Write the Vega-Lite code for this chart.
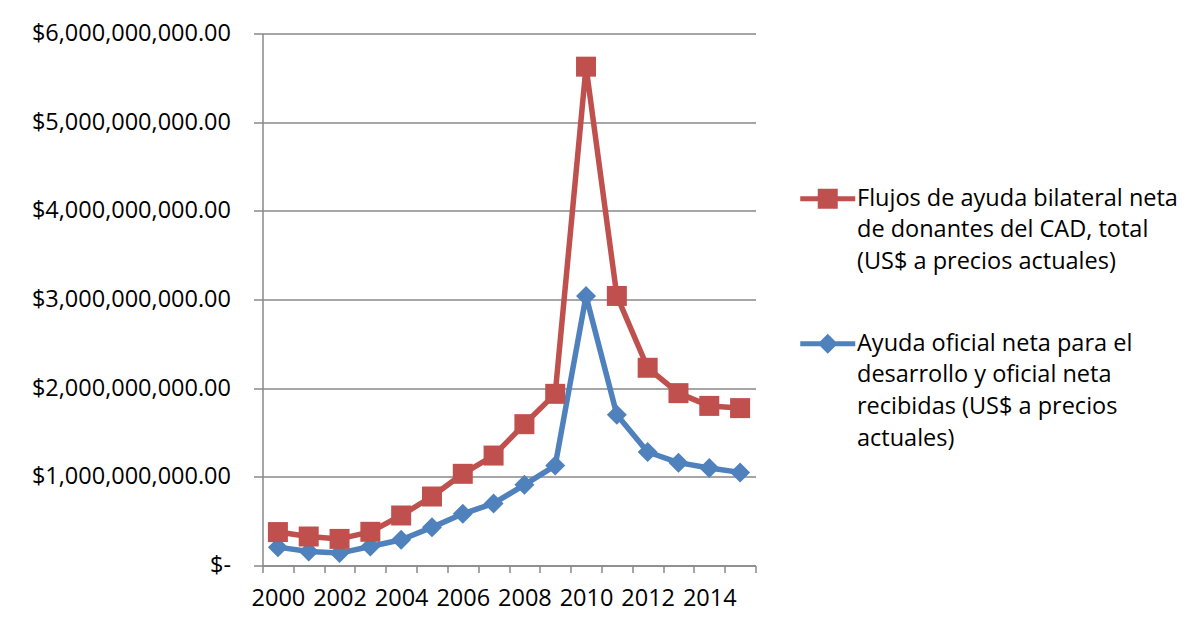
{
  "$schema": "https://vega.github.io/schema/vega-lite/v6.json",
  "width": 493,
  "height": 532,
  "autosize": {"type": "none"},
  "padding": {"left": 262.5, "top": 33.5, "right": 442.5, "bottom": 65.5},
  "background": "white",
  "config": {"view": {"stroke": null}, "font": "Open Sans"},
  "data": {
    "values": [
      {"year": 2000, "series": "Ayuda oficial neta para el desarrollo y oficial neta recibidas (US$ a precios actuales)", "value": 207000000},
      {"year": 2001, "series": "Ayuda oficial neta para el desarrollo y oficial neta recibidas (US$ a precios actuales)", "value": 158000000},
      {"year": 2002, "series": "Ayuda oficial neta para el desarrollo y oficial neta recibidas (US$ a precios actuales)", "value": 140000000},
      {"year": 2003, "series": "Ayuda oficial neta para el desarrollo y oficial neta recibidas (US$ a precios actuales)", "value": 214000000},
      {"year": 2004, "series": "Ayuda oficial neta para el desarrollo y oficial neta recibidas (US$ a precios actuales)", "value": 290000000},
      {"year": 2005, "series": "Ayuda oficial neta para el desarrollo y oficial neta recibidas (US$ a precios actuales)", "value": 430000000},
      {"year": 2006, "series": "Ayuda oficial neta para el desarrollo y oficial neta recibidas (US$ a precios actuales)", "value": 583000000},
      {"year": 2007, "series": "Ayuda oficial neta para el desarrollo y oficial neta recibidas (US$ a precios actuales)", "value": 700000000},
      {"year": 2008, "series": "Ayuda oficial neta para el desarrollo y oficial neta recibidas (US$ a precios actuales)", "value": 910000000},
      {"year": 2009, "series": "Ayuda oficial neta para el desarrollo y oficial neta recibidas (US$ a precios actuales)", "value": 1127000000},
      {"year": 2010, "series": "Ayuda oficial neta para el desarrollo y oficial neta recibidas (US$ a precios actuales)", "value": 3040000000},
      {"year": 2011, "series": "Ayuda oficial neta para el desarrollo y oficial neta recibidas (US$ a precios actuales)", "value": 1700000000},
      {"year": 2012, "series": "Ayuda oficial neta para el desarrollo y oficial neta recibidas (US$ a precios actuales)", "value": 1280000000},
      {"year": 2013, "series": "Ayuda oficial neta para el desarrollo y oficial neta recibidas (US$ a precios actuales)", "value": 1160000000},
      {"year": 2014, "series": "Ayuda oficial neta para el desarrollo y oficial neta recibidas (US$ a precios actuales)", "value": 1100000000},
      {"year": 2015, "series": "Ayuda oficial neta para el desarrollo y oficial neta recibidas (US$ a precios actuales)", "value": 1050000000},
      {"year": 2000, "series": "Flujos de ayuda bilateral neta de donantes del CAD, total (US$ a precios actuales)", "value": 377000000},
      {"year": 2001, "series": "Flujos de ayuda bilateral neta de donantes del CAD, total (US$ a precios actuales)", "value": 327000000},
      {"year": 2002, "series": "Flujos de ayuda bilateral neta de donantes del CAD, total (US$ a precios actuales)", "value": 300000000},
      {"year": 2003, "series": "Flujos de ayuda bilateral neta de donantes del CAD, total (US$ a precios actuales)", "value": 380000000},
      {"year": 2004, "series": "Flujos de ayuda bilateral neta de donantes del CAD, total (US$ a precios actuales)", "value": 564000000},
      {"year": 2005, "series": "Flujos de ayuda bilateral neta de donantes del CAD, total (US$ a precios actuales)", "value": 778000000},
      {"year": 2006, "series": "Flujos de ayuda bilateral neta de donantes del CAD, total (US$ a precios actuales)", "value": 1034000000},
      {"year": 2007, "series": "Flujos de ayuda bilateral neta de donantes del CAD, total (US$ a precios actuales)", "value": 1240000000},
      {"year": 2008, "series": "Flujos de ayuda bilateral neta de donantes del CAD, total (US$ a precios actuales)", "value": 1594000000},
      {"year": 2009, "series": "Flujos de ayuda bilateral neta de donantes del CAD, total (US$ a precios actuales)", "value": 1936000000},
      {"year": 2010, "series": "Flujos de ayuda bilateral neta de donantes del CAD, total (US$ a precios actuales)", "value": 5626000000},
      {"year": 2011, "series": "Flujos de ayuda bilateral neta de donantes del CAD, total (US$ a precios actuales)", "value": 3040000000},
      {"year": 2012, "series": "Flujos de ayuda bilateral neta de donantes del CAD, total (US$ a precios actuales)", "value": 2230000000},
      {"year": 2013, "series": "Flujos de ayuda bilateral neta de donantes del CAD, total (US$ a precios actuales)", "value": 1944000000},
      {"year": 2014, "series": "Flujos de ayuda bilateral neta de donantes del CAD, total (US$ a precios actuales)", "value": 1800000000},
      {"year": 2015, "series": "Flujos de ayuda bilateral neta de donantes del CAD, total (US$ a precios actuales)", "value": 1775000000}
    ]
  },
  "encoding": {
    "x": {
      "field": "year",
      "type": "quantitative",
      "scale": {"domain": [1999.5, 2015.5], "nice": false, "zero": false},
      "axis": {
        "title": null,
        "grid": false,
        "values": [1999.5, 2000.5, 2001.5, 2002.5, 2003.5, 2004.5, 2005.5, 2006.5, 2007.5, 2008.5, 2009.5, 2010.5, 2011.5, 2012.5, 2013.5, 2014.5, 2015.5],
        "labelExpr": "((datum.value + 0.5) % 2 === 0 && datum.value < 2015) ? format(datum.value + 0.5, 'd') : ''",
        "labelOffset": 15.4,
        "labelOverlap": false,
        "labelFlush": false,
        "labelBound": false,
        "labelFont": "Open Sans",
        "labelFontSize": 23.5,
        "labelColor": "#000000",
        "labelPadding": 14,
        "tickSize": 7,
        "tickColor": "#898989",
        "domainColor": "#898989",
        "tickWidth": 1.5,
        "domainWidth": 1.5
      }
    },
    "y": {
      "field": "value",
      "type": "quantitative",
      "scale": {"domain": [0, 6000000000], "nice": false},
      "axis": {
        "title": null,
        "values": [0, 1000000000, 2000000000, 3000000000, 4000000000, 5000000000, 6000000000],
        "labelExpr": "datum.value === 0 ? '$-\u00a0\u00a0' : format(datum.value, '$,.2f')",
        "labelFont": "Open Sans",
        "labelFontSize": 23.5,
        "labelColor": "#000000",
        "labelLimit": 400,
        "labelPadding": 23,
        "tickSize": 9,
        "tickColor": "#898989",
        "domainColor": "#898989",
        "gridColor": "#898989",
        "gridWidth": 1.5,
        "tickWidth": 1.5,
        "domainWidth": 1.5
      }
    }
  },
  "layer": [
    {
      "mark": {"type": "line", "strokeWidth": 5.5, "strokeJoin": "round", "strokeCap": "round"},
      "encoding": {
        "stroke": {
          "field": "series",
          "type": "nominal",
          "scale": {
            "domain": ["Flujos de ayuda bilateral neta de donantes del CAD, total (US$ a precios actuales)", "Ayuda oficial neta para el desarrollo y oficial neta recibidas (US$ a precios actuales)"],
            "range": ["#C0504D", "#4F81BD"]
          },
          "legend": {
            "orient": "none",
            "legendX": 553.5,
            "legendY": 153.5,
            "title": null,
            "padding": 0,
            "symbolSize": 400,
            "labelFont": "Open Sans",
            "labelFontSize": 23.5,
            "labelColor": "#000000",
            "labelLimit": 600,
            "labelOffset": 17.5,
            "rowPadding": 57,
            "labelExpr": "indexof(datum.value, 'Flujos') === 0 ? ['Flujos de ayuda bilateral neta', 'de donantes del CAD, total', '(US$ a precios actuales)'] : ['Ayuda oficial neta para el', 'desarrollo y oficial neta', 'recibidas (US$ a precios', 'actuales)']",
            "encode": {
              "labels": {
                "update": {"lineHeight": {"value": 31.7}}
              },
              "symbols": {
                "update": {
                  "shape": {"signal": "indexof(datum.value, 'Flujos') === 0 ? 'M-2.75,-0.25L-1,-0.25L-1,-1L1,-1L1,-0.25L2.75,-0.25L2.75,0.25L1,0.25L1,1L-1,1L-1,0.25L-2.75,0.25Z' : 'M-2.75,-0.25L-0.75,-0.25L0,-1L0.75,-0.25L2.75,-0.25L2.75,0.25L0.75,0.25L0,1L-0.75,0.25L-2.75,0.25Z'"},
                  "strokeWidth": {"value": 0}
                }
              }
            }
          }
        }
      }
    },
    {
      "transform": [{"filter": "indexof(datum.series, 'Ayuda') === 0"}],
      "mark": {"type": "point", "shape": "diamond", "filled": true, "size": 400, "opacity": 1, "strokeWidth": 0},
      "encoding": {
        "fill": {
          "field": "series",
          "type": "nominal",
          "scale": {
            "domain": ["Flujos de ayuda bilateral neta de donantes del CAD, total (US$ a precios actuales)", "Ayuda oficial neta para el desarrollo y oficial neta recibidas (US$ a precios actuales)"],
            "range": ["#C0504D", "#4F81BD"]
          },
          "legend": {
            "orient": "none",
            "legendX": 553.5,
            "legendY": 153.5,
            "title": null,
            "padding": 0,
            "symbolSize": 400,
            "labelFont": "Open Sans",
            "labelFontSize": 23.5,
            "labelColor": "#000000",
            "labelLimit": 600,
            "labelOffset": 17.5,
            "rowPadding": 57,
            "labelExpr": "indexof(datum.value, 'Flujos') === 0 ? ['Flujos de ayuda bilateral neta', 'de donantes del CAD, total', '(US$ a precios actuales)'] : ['Ayuda oficial neta para el', 'desarrollo y oficial neta', 'recibidas (US$ a precios', 'actuales)']",
            "encode": {
              "labels": {
                "update": {"lineHeight": {"value": 31.7}}
              },
              "symbols": {
                "update": {
                  "shape": {"signal": "indexof(datum.value, 'Flujos') === 0 ? 'M-2.75,-0.25L-1,-0.25L-1,-1L1,-1L1,-0.25L2.75,-0.25L2.75,0.25L1,0.25L1,1L-1,1L-1,0.25L-2.75,0.25Z' : 'M-2.75,-0.25L-0.75,-0.25L0,-1L0.75,-0.25L2.75,-0.25L2.75,0.25L0.75,0.25L0,1L-0.75,0.25L-2.75,0.25Z'"},
                  "strokeWidth": {"value": 0}
                }
              }
            }
          }
        }
      }
    },
    {
      "transform": [{"filter": "indexof(datum.series, 'Flujos') === 0"}],
      "mark": {"type": "point", "shape": "square", "filled": true, "size": 400, "opacity": 1, "strokeWidth": 0},
      "encoding": {
        "fill": {
          "field": "series",
          "type": "nominal",
          "scale": {
            "domain": ["Flujos de ayuda bilateral neta de donantes del CAD, total (US$ a precios actuales)", "Ayuda oficial neta para el desarrollo y oficial neta recibidas (US$ a precios actuales)"],
            "range": ["#C0504D", "#4F81BD"]
          },
          "legend": {
            "orient": "none",
            "legendX": 553.5,
            "legendY": 153.5,
            "title": null,
            "padding": 0,
            "symbolSize": 400,
            "labelFont": "Open Sans",
            "labelFontSize": 23.5,
            "labelColor": "#000000",
            "labelLimit": 600,
            "labelOffset": 17.5,
            "rowPadding": 57,
            "labelExpr": "indexof(datum.value, 'Flujos') === 0 ? ['Flujos de ayuda bilateral neta', 'de donantes del CAD, total', '(US$ a precios actuales)'] : ['Ayuda oficial neta para el', 'desarrollo y oficial neta', 'recibidas (US$ a precios', 'actuales)']",
            "encode": {
              "labels": {
                "update": {"lineHeight": {"value": 31.7}}
              },
              "symbols": {
                "update": {
                  "shape": {"signal": "indexof(datum.value, 'Flujos') === 0 ? 'M-2.75,-0.25L-1,-0.25L-1,-1L1,-1L1,-0.25L2.75,-0.25L2.75,0.25L1,0.25L1,1L-1,1L-1,0.25L-2.75,0.25Z' : 'M-2.75,-0.25L-0.75,-0.25L0,-1L0.75,-0.25L2.75,-0.25L2.75,0.25L0.75,0.25L0,1L-0.75,0.25L-2.75,0.25Z'"},
                  "strokeWidth": {"value": 0}
                }
              }
            }
          }
        }
      }
    }
  ]
}
